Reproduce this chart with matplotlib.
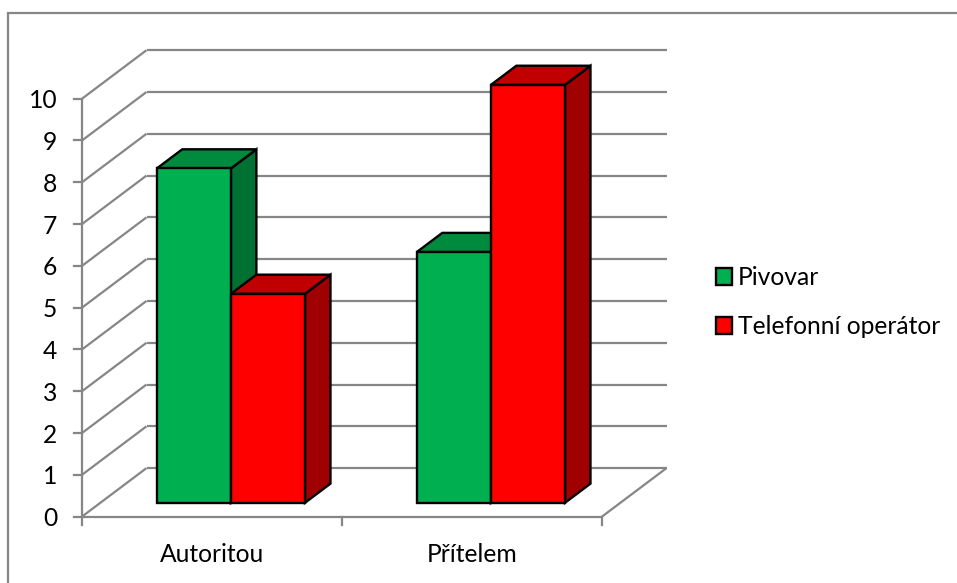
import matplotlib
matplotlib.use("Agg")
import matplotlib.pyplot as plt
from matplotlib.lines import Line2D
from matplotlib.patches import Polygon, Rectangle

categories = ["Autoritou", "Přítelem"]
series_names = ["Pivovar", "Telefonní operátor"]
pivovar = [8, 6]
telefonni = [5, 10]
y_ticks = [0, 1, 2, 3, 4, 5, 6, 7, 8, 9, 10]

W, H = 957, 583
GREY = "#868686"
FONT_SIZE = 17.7

plt.rcParams["font.family"] = ["Lato", "DejaVu Sans"]

fig = plt.figure(figsize=(W / 100, H / 100), dpi=100)

# front plane of the 3D box, in pixels
left, right = 82, 602
top, bottom = 98.7, 516.6
ax = fig.add_axes([left / W, 1 - bottom / H, (right - left) / W, (bottom - top) / H])
ax.set_xlim(0, 2)
ax.set_ylim(0, 10)
ax.axis("off")

# how far the back wall is pushed, in data units
shift_x = 64.5 / (right - left) * 2
shift_y = 48.5 / (bottom - top) * 10


def project(x, y, depth):
    return x + depth * shift_x, y + depth * shift_y


def line3d(p1, p2):
    a = project(*p1)
    b = project(*p2)
    ax.plot([a[0], b[0]], [a[1], b[1]], color=GREY, lw=1.6, clip_on=False,
            solid_capstyle="butt", zorder=1)


# gridlines: diagonal on the side wall, then across the back wall
for v in y_ticks:
    line3d((0, v, 0), (0, v, 1))
    line3d((0, v, 1), (2, v, 1))

# axes and ticks
line3d((0, 0, 0), (0, 10, 0))
line3d((0, 0, 0), (2, 0, 0))
line3d((2, 0, 0), (2, 0, 1))
tick_x = 8.5 / (right - left) * 2
tick_y = 8.5 / (bottom - top) * 10
for v in y_ticks:
    ax.plot([-tick_x, 0], [v, v], color=GREY, lw=1.6, clip_on=False, zorder=1)
    ax.text(-tick_x - 0.062, v, str(v), ha="right", va="center_baseline",
            fontsize=FONT_SIZE, color="black")
for i in range(3):
    ax.plot([i, i], [-tick_y, 0], color=GREY, lw=1.6, clip_on=False, zorder=1)
for i, name in enumerate(categories):
    ax.text(i + 0.5, -0.87, name, ha="center", va="center_baseline",
            fontsize=FONT_SIZE, color="black")


def bar3d(x0, width, value, front, side, roof, z):
    d0, d1 = 0.285, 0.68
    x1 = x0 + width
    faces = [
        ([(x1, 0, d0), (x1, 0, d1), (x1, value, d1), (x1, value, d0)], side),
        ([(x0, value, d0), (x1, value, d0), (x1, value, d1), (x0, value, d1)], roof),
        ([(x0, 0, d0), (x1, 0, d0), (x1, value, d0), (x0, value, d0)], front),
    ]
    for pts, col in faces:
        xy = [project(*p) for p in pts]
        ax.add_patch(Polygon(xy, closed=True, facecolor=col, edgecolor="black", lw=1.7,
                             joinstyle="miter", clip_on=False, zorder=z))


bar_w = 0.285
for i in range(len(categories)):
    x0 = i + 0.217
    bar3d(x0, bar_w, pivovar[i], "#00B050", "#007033", "#008A3E", 2 + i * 2)
    bar3d(x0 + bar_w, bar_w, telefonni[i], "#FF0000", "#A00000", "#C00000", 3 + i * 2)

# legend
handles = [Rectangle((0, 0), 1, 1, facecolor="#00B050", edgecolor="black", lw=1.7),
           Rectangle((0, 0), 1, 1, facecolor="#FF0000", edgecolor="black", lw=1.7)]
fig.legend(handles, series_names, loc="upper left", bbox_to_anchor=(716 / W, 1 - 266 / H),
           frameon=False, fontsize=FONT_SIZE, handlelength=0.65, handleheight=0.65,
           handletextpad=0.24, labelspacing=1.07, borderpad=0, borderaxespad=0)

# chart area border, only the top and left edges fall inside the image
fig.add_artist(Line2D([8 / W, 8 / W, 1], [0, 1 - 13 / H, 1 - 13 / H], transform=fig.transFigure,
                      color=GREY, lw=1.6, solid_joinstyle="miter"))

fig.savefig("out.png", dpi=100)
